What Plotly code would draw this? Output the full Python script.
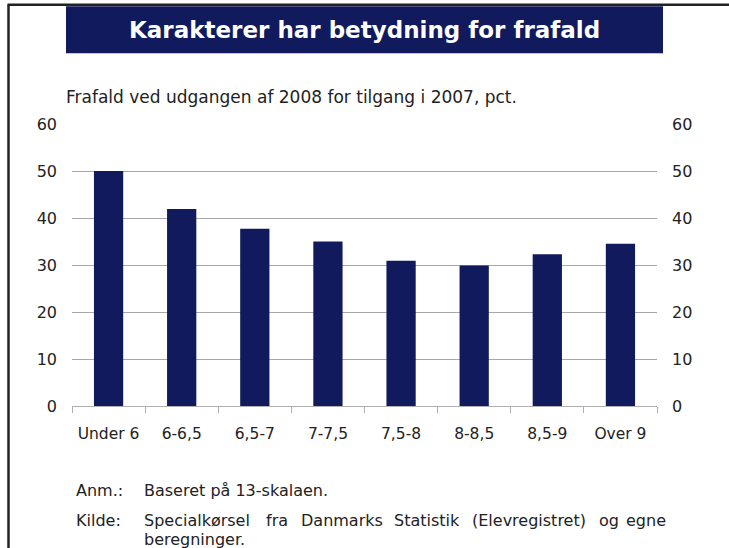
import plotly.graph_objects as go

categories = ["Under 6", "6-6,5", "6,5-7", "7-7,5", "7,5-8", "8-8,5", "8,5-9", "Over 9"]
values = [50.0, 41.9, 37.7, 35.0, 30.9, 29.9, 32.3, 34.5]
y_ticks = [0, 10, 20, 30, 40, 50, 60]

title_text = "Karakterer har betydning for frafald"
subtitle_text = "Frafald ved udgangen af 2008 for tilgang i 2007, pct."
note_label = "Anm.:"
note_text = "Baseret på 13-skalaen."
source_label = "Kilde:"
source_words = ["Specialkørsel", "fra", "Danmarks", "Statistik", "(Elevregistret)", "og", "egne"]
source_word_x = [143, 265, 300, 393, 471, 598, 625]
source_text2 = "beregninger."

W, H = 729, 548
L, R, T, B = 72, 657, 123.7, 405.7
NAVY = "#101a5c"
FONT = "DejaVu Sans"
TXT = "#222222"


def px(x):
    return (x - L) / (R - L)


def py(y):
    return (B - y) / (B - T)


fig = go.Figure()
fig.add_trace(go.Bar(x=categories, y=values, marker=dict(color=NAVY, line=dict(width=0)),
                     hoverinfo="x+y"))
fig.add_trace(go.Scatter(x=categories, y=values, yaxis="y2", mode="markers",
                         marker=dict(opacity=0), hoverinfo="skip", showlegend=False))

fig.update_layout(
    width=W, height=H,
    margin=dict(l=L, r=W - R, t=T, b=H - B, pad=0),
    paper_bgcolor="white", plot_bgcolor="white",
    showlegend=False,
    bargap=0.6,
    font=dict(family=FONT, size=16, color=TXT),
    xaxis=dict(
        showline=True, linecolor="#b0b0b0", linewidth=1,
        ticks="outside", tickson="boundaries", ticklen=6, tickcolor="#b0b0b0",
        tickangle=0, ticklabelstandoff=13,
        tickfont=dict(size=15.5, family=FONT, color=TXT),
        showgrid=False,
    ),
    yaxis=dict(
        range=[0, 60], tickvals=y_ticks, showgrid=True, gridcolor="#a8a8a8", gridwidth=1,
        zeroline=False, showline=False, ticks="", ticklabelstandoff=14,
        tickfont=dict(size=16, family=FONT, color=TXT),
    ),
    yaxis2=dict(
        range=[0, 60], tickvals=y_ticks, overlaying="y", side="right", showgrid=False,
        zeroline=False, showline=False, ticks="", ticklabelstandoff=14,
        tickfont=dict(size=16, family=FONT, color=TXT),
    ),
)

shapes = [
    dict(type="rect", xref="paper", yref="paper", x0=px(66), x1=px(663), y0=py(53), y1=py(6),
         fillcolor=NAVY, line=dict(width=0), layer="below"),
    dict(type="line", xref="paper", yref="paper", x0=px(7.5), x1=px(730), y0=py(4.5), y1=py(4.5),
         line=dict(color="#222222", width=2.5)),
    dict(type="line", xref="paper", yref="paper", x0=px(8.5), x1=px(8.5), y0=py(4.5), y1=py(560),
         line=dict(color="#222222", width=2.5)),
]
fig.update_layout(shapes=shapes)

FOOT = 16
annotations = [
    dict(text="<b>" + title_text + "</b>", x=px(364.5), y=py(30), xanchor="center", yanchor="middle",
         font=dict(size=23, color="white", family=FONT)),
    dict(text=subtitle_text, x=px(64), y=py(97), xanchor="left", yanchor="middle",
         font=dict(size=17, color=TXT, family=FONT)),
    dict(text=note_label, x=px(74), y=py(490), xanchor="left", yanchor="middle",
         font=dict(size=FOOT, color=TXT, family=FONT)),
    dict(text=note_text, x=px(142), y=py(490), xanchor="left", yanchor="middle",
         font=dict(size=FOOT, color=TXT, family=FONT)),
    dict(text=source_label, x=px(74), y=py(520), xanchor="left", yanchor="middle",
         font=dict(size=FOOT, color=TXT, family=FONT)),
    dict(text=source_text2, x=px(142), y=py(539), xanchor="left", yanchor="middle",
         font=dict(size=FOOT, color=TXT, family=FONT)),
]
for w, wx in zip(source_words, source_word_x):
    annotations.append(dict(text=w, x=px(wx - 1), y=py(520), xanchor="left", yanchor="middle",
                            font=dict(size=FOOT, color=TXT, family=FONT)))
for a in annotations:
    a.update(xref="paper", yref="paper", showarrow=False)
fig.update_layout(annotations=annotations)

fig.write_html("out.html", config={"displayModeBar": False},
               post_script="document.body.style.margin='0px';")
